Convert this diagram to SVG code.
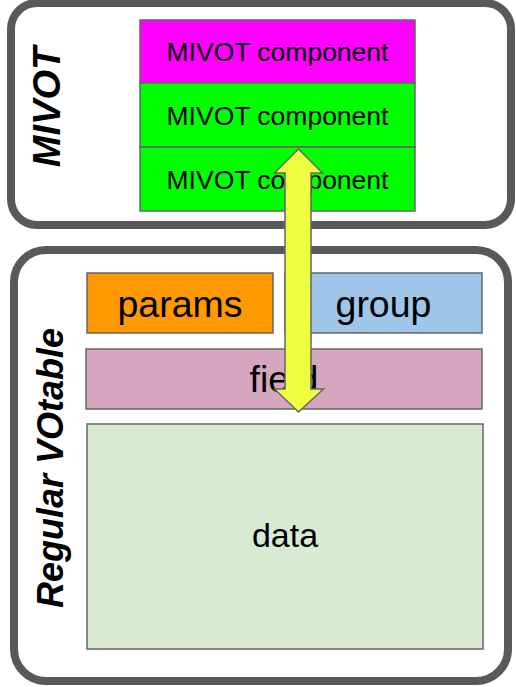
<svg xmlns="http://www.w3.org/2000/svg" width="516" height="687" viewBox="0 0 516 687">
  <style>
    .panel { fill: #ffffff; stroke: #595959; stroke-width: 8; }
    .box { stroke: #666666; stroke-width: 1.5; }
    .label { font-family: "Liberation Sans", Arial, sans-serif; fill: #000000; text-anchor: middle; }
    .title { font-family: "Liberation Sans", Arial, sans-serif; font-weight: bold; font-style: italic; fill: #000000; text-anchor: middle; }
    .comp { font-size: 26.5px; }
    .big { font-size: 37.5px; }
    .arrow { fill: #eeff41; stroke: #666666; stroke-width: 1.5; stroke-linejoin: miter; }
  </style>

  <!-- MIVOT panel -->
  <g id="mivot-panel">
    <rect class="panel" x="11" y="3" width="500" height="222" rx="26" ry="26"/>
    <text class="title" font-size="38" transform="translate(60,107) rotate(-90)">MIVOT</text>
  </g>
  <g id="mivot-component-1">
    <rect class="box" x="140" y="20" width="275" height="63" fill="#ff00ff"/>
    <text class="label comp" x="277.5" y="61">MIVOT component</text>
  </g>
  <g id="mivot-component-2">
    <rect class="box" x="140" y="83" width="275" height="64" fill="#00ff00"/>
    <text class="label comp" x="277.5" y="124.5">MIVOT component</text>
  </g>
  <g id="mivot-component-3">
    <rect class="box" x="140" y="147" width="275" height="64" fill="#00ff00"/>
    <text class="label comp" x="277.5" y="188.5">MIVOT component</text>
  </g>

  <!-- Regular VOtable panel -->
  <g id="votable-panel">
    <rect class="panel" x="14" y="250" width="494" height="431" rx="32" ry="32"/>
    <text class="title" font-size="36" transform="translate(63,468) rotate(-90)">Regular VOtable</text>
  </g>
  <g id="params">
    <rect class="box" x="87" y="273" width="186" height="60" fill="#ff9900"/>
    <text class="label big" x="180" y="317">params</text>
  </g>
  <g id="group">
    <rect class="box" x="285" y="273" width="197" height="60" fill="#9fc5e8"/>
    <text class="label big" x="383.5" y="317">group</text>
  </g>
  <g id="field">
    <rect class="box" x="86" y="349" width="396" height="60" fill="#d5a6bd"/>
    <text class="label big" x="284" y="392">field</text>
  </g>
  <g id="data">
    <rect class="box" x="87" y="424" width="396" height="225" fill="#d9ead3"/>
    <text class="label" font-size="34" x="285" y="547">data</text>
  </g>

  <!-- connectors -->
  <g id="connectors">
    <polygon class="arrow" points="298.5,149 322.5,173 311,173 311,389 323.5,389 298.5,412 274.5,389 285,389 285,173 274.5,173"/>
  </g>
</svg>
